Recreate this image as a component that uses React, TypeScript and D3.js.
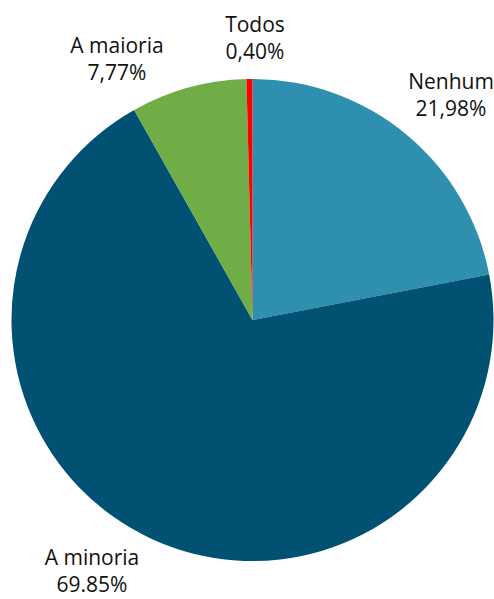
import React from "react";
import * as d3 from "d3";

// Share of respondents per answer
const categories = ["Nenhum", "A minoria", "A maioria", "Todos"];
const values = [21.98, 69.85, 7.77, 0.4];
const valueLabels = ["21,98%", "69.85%", "7,77%", "0,40%"];
const colors = ["#2E8FAE", "#015172", "#70AD47", "#FF0000"];

// Label anchor points (centre x, first baseline y)
const labelAnchors: [number, number][] = [
  [451, 89],
  [92, 565],
  [117, 53],
  [255, 32],
];

const W = 494;
const H = 599;
const cx = 252.5;
const cy = 320;
const radius = 241;

export default function App() {
  const pie = d3.pie<number>().sort(null).value((d) => d);
  const arcs = pie(values);
  const arc = d3.arc<d3.PieArcDatum<number>>().innerRadius(0).outerRadius(radius);

  return (
    <svg
      width={W}
      height={H}
      style={{ position: "absolute", left: 0, top: 0, background: "#fff" }}
    >
      <g transform={`translate(${cx},${cy})`}>
        {arcs.map((a, i) => (
          <path key={categories[i]} d={arc(a) ?? ""} fill={colors[i]} />
        ))}
      </g>
      {categories.map((c, i) => (
        <text
          key={c}
          x={labelAnchors[i][0]}
          y={labelAnchors[i][1]}
          textAnchor="middle"
          fontFamily="'Open Sans', sans-serif"
          fontSize={21}
          fill="#111"
        >
          <tspan x={labelAnchors[i][0]}>{c}</tspan>
          <tspan x={labelAnchors[i][0]} dy={27}>
            {valueLabels[i]}
          </tspan>
        </text>
      ))}
    </svg>
  );
}
